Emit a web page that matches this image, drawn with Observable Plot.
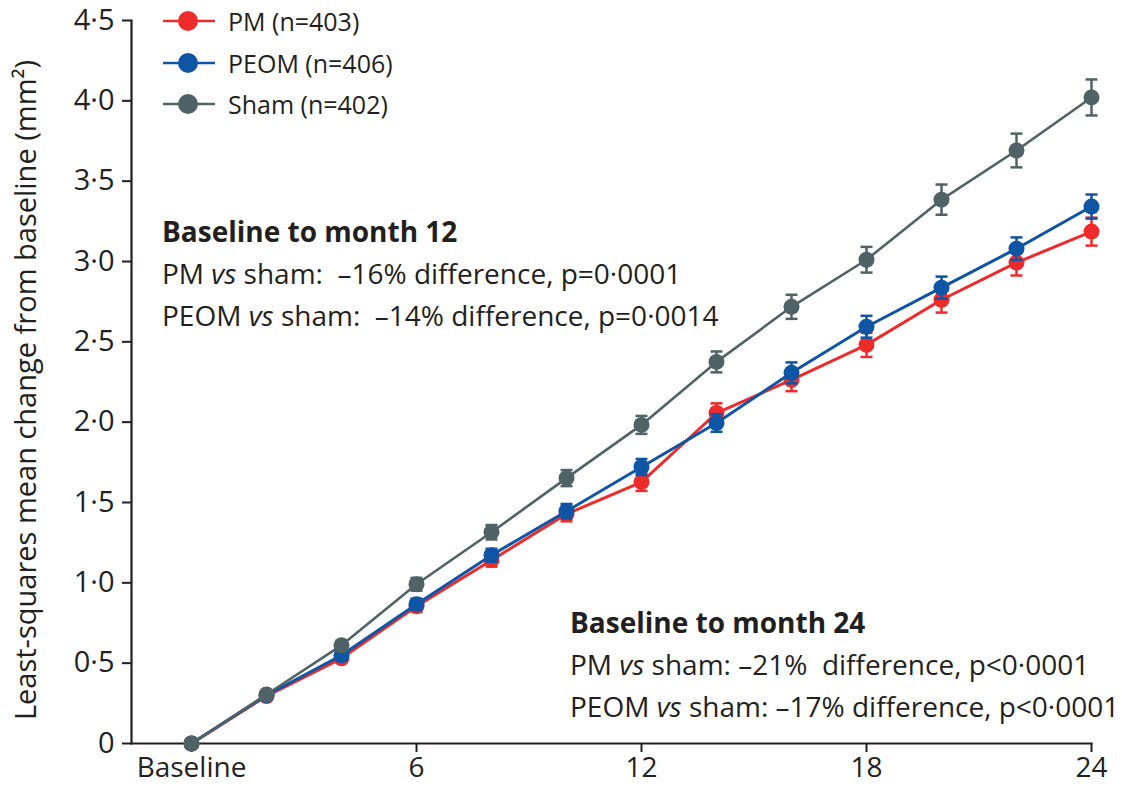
<!DOCTYPE html>
<html><head><meta charset="utf-8">
<script src="https://cdn.jsdelivr.net/npm/d3@7"></script>
<script src="https://cdn.jsdelivr.net/npm/@observablehq/plot@0.6"></script>
<style>
body{margin:0;background:#fff;}
#wrap{position:relative;width:1122px;height:797px;font-family:"Open Sans",sans-serif;color:#231f20;}
#wrap > svg{position:absolute;left:0;top:0;}
.ann{position:absolute;white-space:pre;font-size:28px;line-height:42px;}
.ann b{font-weight:700;}
.leg{position:absolute;left:163px;display:flex;align-items:center;font-size:25px;white-space:pre;height:40px;}
.leg svg{margin-right:13px;}
</style></head><body><div id="wrap"></div>
<script>
const months = [0, 2, 4, 6, 8, 10, 12, 14, 16, 18, 20, 22, 24];
const pmValues   = [0, 0.295, 0.53, 0.854, 1.141, 1.428, 1.627, 2.057, 2.263, 2.481, 2.762, 2.993, 3.186];
const pmErrors   = [0, 0.015, 0.025, 0.035, 0.04, 0.045, 0.055, 0.06, 0.07, 0.075, 0.08, 0.08, 0.087];
const peomValues = [0, 0.30, 0.549, 0.867, 1.172, 1.446, 1.721, 1.995, 2.307, 2.594, 2.837, 3.08, 3.342];
const peomErrors = [0, 0.015, 0.025, 0.035, 0.04, 0.045, 0.05, 0.055, 0.065, 0.068, 0.069, 0.07, 0.075];
const shamValues = [0, 0.305, 0.611, 0.991, 1.315, 1.652, 1.983, 2.375, 2.718, 3.011, 3.385, 3.691, 4.021];
const shamErrors = [0, 0.015, 0.03, 0.04, 0.045, 0.05, 0.056, 0.065, 0.075, 0.08, 0.094, 0.105, 0.112];
const seriesNames = ["PM (n=403)", "PEOM (n=406)", "Sham (n=402)"];
const seriesColors = ["#ee2b2b", "#0e55a5", "#4f6367"];
const yTicks = [0, 0.5, 1, 1.5, 2, 2.5, 3, 3.5, 4, 4.5];
const yTickLabels = ["0", "0·5", "1·0", "1·5", "2·0", "2·5", "3·0", "3·5", "4·0", "4·5"];
const xTicks = [0, 6, 12, 18, 24];
const xTickLabels = ["Baseline", "6", "12", "18", "24"];
const yLabel = "Least-squares mean change from baseline (mm²)";

const allValues = [pmValues, peomValues, shamValues];
const allErrors = [pmErrors, peomErrors, shamErrors];
const series = seriesNames.map((name, s) => months.map((m, i) => ({
  name, month: m, value: allValues[s][i], lo: allValues[s][i] - allErrors[s][i], hi: allValues[s][i] + allErrors[s][i]
})));

const cap = { draw(ctx, size) { const w = Math.sqrt(size / Math.PI); ctx.moveTo(-w, 0); ctx.lineTo(w, 0); } };

const marks = [];
series.forEach((rows, s) => {
  const c = seriesColors[s];
  const sw = s === 2 ? 2.6 : 3;
  marks.push(
    Plot.line(rows, {x: "month", y: "value", stroke: c, strokeWidth: sw}),
    Plot.ruleX(rows, {x: "month", y1: "lo", y2: "hi", stroke: c, strokeWidth: 2.5}),
    Plot.dot(rows, {x: "month", y: "lo", symbol: cap, r: 6, stroke: c, fill: "none", strokeWidth: 2.5}),
    Plot.dot(rows, {x: "month", y: "hi", symbol: cap, r: 6, stroke: c, fill: "none", strokeWidth: 2.5}),
    Plot.dot(rows, {x: "month", y: "value", r: 8, fill: c, stroke: "none"})
  );
});

const chart = Plot.plot({
  width: 1122, height: 797,
  marginLeft: 131, marginRight: 31, marginTop: 20, marginBottom: 54,
  style: {fontFamily: "'Open Sans', sans-serif", color: "#231f20", background: "transparent"},
  x: {domain: [-1.6, 24]},
  y: {domain: [0, 4.5]},
  marks: [
    Plot.axisY({ticks: yTicks, tickFormat: d => yTickLabels[yTicks.indexOf(d)], tickSize: 9, tickPadding: 8,
      fontSize: 29, fontFamily: "'Open Sans', sans-serif", strokeWidth: 2, stroke: "#231f20", fill: "#231f20", label: null}),
    Plot.axisX({ticks: xTicks, tickFormat: d => xTickLabels[xTicks.indexOf(d)], tickSize: 9, tickPadding: 5,
      fontSize: 28, fontFamily: "'Open Sans', sans-serif", strokeWidth: 2, stroke: "#231f20", fill: "#231f20", label: null}),
    Plot.text([yLabel], {frameAnchor: "left", textAnchor: "middle", lineAnchor: "middle", rotate: -90, dx: -105, dy: 8,
      fontSize: 29, fill: "#231f20", text: d => d}),
    Plot.frame({anchor: "left", stroke: "#231f20", strokeWidth: 2.2}),
    Plot.frame({anchor: "bottom", stroke: "#231f20", strokeWidth: 2.2}),
    ...marks
  ]
});
const wrap = document.getElementById("wrap");
wrap.appendChild(chart);

// legend
const legendRowsY = [21, 63, 104];
seriesNames.forEach((name, s) => {
  const row = document.createElement("div");
  row.className = "leg";
  row.style.top = (legendRowsY[s] - 20) + "px";
  row.innerHTML = `<svg width="52" height="24"><line x1="0" y1="12" x2="52" y2="12" stroke="${seriesColors[s]}" stroke-width="2.6"/><circle cx="25" cy="12" r="10" fill="${seriesColors[s]}"/></svg>${name}`;
  wrap.appendChild(row);
});

// annotations
const annotations = [
  {left: 162, top: 210, title: "Baseline to month 12",
   lines: [["PM", ":  –16% difference, p=0·0001"], ["PEOM", ":  –14% difference, p=0·0014"]]},
  {left: 570, top: 601, title: "Baseline to month 24",
   lines: [["PM", ": –21%  difference, p<0·0001"], ["PEOM", ": –17% difference, p<0·0001"]]}
];
annotations.forEach(a => {
  const d = document.createElement("div");
  d.className = "ann";
  d.style.left = a.left + "px";
  d.style.top = a.top + "px";
  d.innerHTML = `<b>${a.title}</b>\n` + a.lines.map(([g, rest]) => `${g} <i>vs</i> sham${rest.replace(/</g, "&lt;")}`).join("\n");
  wrap.appendChild(d);
});
</script>
</body></html>
